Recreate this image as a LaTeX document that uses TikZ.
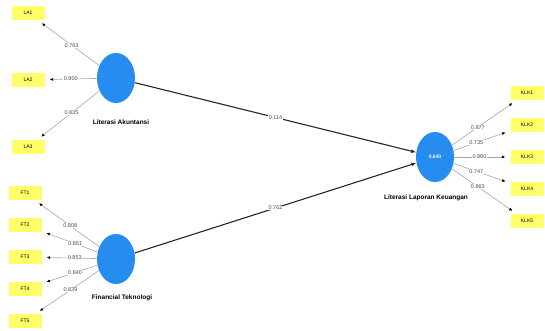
\documentclass[tikz,border=0pt]{standalone}
\usepackage{fontspec}
\setmainfont{Liberation Sans}
\usetikzlibrary{shapes.geometric,arrows.meta,positioning}

\definecolor{lvblue}{RGB}{38,140,240}
\definecolor{indyellow}{RGB}{255,255,105}

\begin{document}
\begin{tikzpicture}[x=1pt, y=-1pt,
        latent/.style={ellipse, fill=lvblue, minimum width=38pt, minimum height=50pt, inner sep=0pt, text=white, font=\fontsize{5}{6}\selectfont\bfseries},
        indicator/.style={rectangle, fill=indyellow, minimum width=33pt, minimum height=14pt, inner sep=0pt, font=\fontsize{5}{6}\selectfont},
        lvname/.style={font=\fontsize{6.5}{7}\selectfont\bfseries, inner sep=1pt},
        loadarrow/.style={draw=gray!70, line width=0.6pt, -{Latex[length=3.5pt, width=3pt, color=black]}, shorten >=5pt},
        patharrow/.style={draw=black!85, line width=1.1pt, -{Latex[length=5pt, width=4pt]}},
        coef/.style={fill=white, inner sep=0.5pt, text=black!70, font=\fontsize{5.5}{6}\selectfont}
    ]
        \useasboundingbox (0,0) rectangle (545,331);

        % latent variables
        \node[latent] (la) at (116,78) {};
        \node[latent] (ft) at (116,259) {};
        \node[latent] (klk) at (435,157) {0.640};

        \node[lvname] (la-name) at (121,122) {Literasi Akuntansi};
        \node[lvname] (ft-name) at (122,298) {Financial Teknologi};
        \node[lvname] (klk-name) at (426,198) {Literasi Laporan Keuangan};

        % indicators
        \node[indicator] (la1) at (28,13) {LA1};
        \node[indicator] (la2) at (28,80) {LA2};
        \node[indicator] (la3) at (28,147) {LA3};

        \node[indicator] (ft1) at (25,193) {FT1};
        \node[indicator] (ft2) at (25,225) {FT2};
        \node[indicator] (ft3) at (25,257) {FT3};
        \node[indicator] (ft4) at (25,289) {FT4};
        \node[indicator] (ft5) at (25,321) {FT5};

        \node[indicator] (klk1) at (527,93) {KLK1};
        \node[indicator] (klk2) at (527,125) {KLK2};
        \node[indicator] (klk3) at (527,157) {KLK3};
        \node[indicator] (klk4) at (527,189) {KLK4};
        \node[indicator] (klk5) at (527,221) {KLK5};

        % outer loadings
        \draw[loadarrow] (la) -- node[coef, pos=0.45]{0.763} (la1);
        \draw[loadarrow] (la) -- node[coef, pos=0.5]{0.800} (la2);
        \draw[loadarrow] (la) -- node[coef, pos=0.45]{0.835} (la3);

        \draw[loadarrow] (ft) -- node[coef, pos=0.45]{0.808} (ft1);
        \draw[loadarrow] (ft) -- node[coef, pos=0.4]{0.851} (ft2);
        \draw[loadarrow] (ft) -- node[coef, pos=0.4]{0.853} (ft3);
        \draw[loadarrow] (ft) -- node[coef, pos=0.4]{0.840} (ft4);
        \draw[loadarrow] (ft) -- node[coef, pos=0.45]{0.839} (ft5);

        \draw[loadarrow] (klk) -- node[coef, pos=0.4]{0.877} (klk1);
        \draw[loadarrow] (klk) -- node[coef, pos=0.4]{0.735} (klk2);
        \draw[loadarrow] (klk) -- node[coef, pos=0.45]{0.880} (klk3);
        \draw[loadarrow] (klk) -- node[coef, pos=0.4]{0.747} (klk4);
        \draw[loadarrow] (klk) -- node[coef, pos=0.4]{0.863} (klk5);

        % path coefficients
        \draw[patharrow] (la) -- node[coef, pos=0.5]{0.114} (klk);
        \draw[patharrow] (ft) -- node[coef, pos=0.5]{0.762} (klk);
    \end{tikzpicture}
\end{document}
